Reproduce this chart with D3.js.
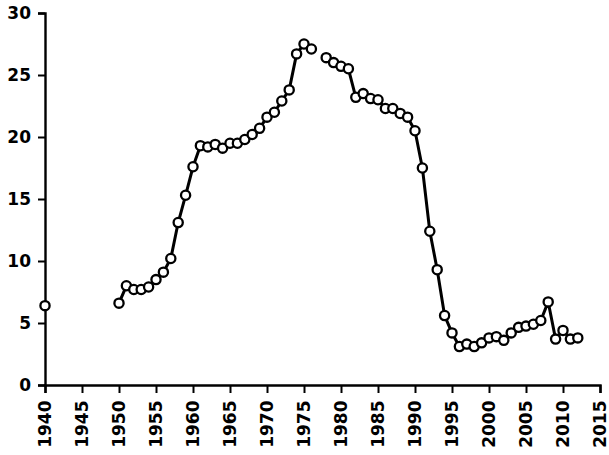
<!DOCTYPE html>
<html>
<head>
<meta charset="utf-8">
<script src="https://cdn.jsdelivr.net/npm/d3@7"></script>
<style>
  html, body { margin: 0; padding: 0; background: #fff; }
  svg { display: block; }
  text { font-family: "DejaVu Sans", Verdana, sans-serif; fill: #000; }
</style>
</head>
<body>
<svg id="chart" width="609" height="455"></svg>
<script>
// Segments of the series (gaps where no data): years and values
const years1 = [1940];
const values1 = [6.4];

const years2 = [1950, 1951, 1952, 1953, 1954, 1955, 1956, 1957, 1958, 1959,
                1960, 1961, 1962, 1963, 1964, 1965, 1966, 1967, 1968, 1969,
                1970, 1971, 1972, 1973, 1974, 1975, 1976];
const values2 = [6.6, 8.0, 7.7, 7.7, 7.9, 8.5, 9.1, 10.2, 13.1, 15.3,
                 17.6, 19.3, 19.2, 19.4, 19.1, 19.5, 19.5, 19.8, 20.2, 20.7,
                 21.6, 22.0, 22.9, 23.8, 26.7, 27.5, 27.1];

const years3 = [1978, 1979, 1980, 1981, 1982, 1983, 1984, 1985, 1986, 1987,
                1988, 1989, 1990, 1991, 1992, 1993, 1994, 1995, 1996, 1997,
                1998, 1999, 2000, 2001, 2002, 2003, 2004, 2005, 2006, 2007,
                2008, 2009, 2010, 2011, 2012];
const values3 = [26.4, 26.0, 25.7, 25.5, 23.2, 23.5, 23.1, 23.0, 22.3, 22.3,
                 21.9, 21.6, 20.5, 17.5, 12.4, 9.3, 5.6, 4.2, 3.1, 3.3,
                 3.1, 3.4, 3.8, 3.9, 3.6, 4.2, 4.65, 4.75, 4.9, 5.2,
                 6.7, 3.7, 4.4, 3.7, 3.8];

const xTicks = [1940, 1945, 1950, 1955, 1960, 1965, 1970, 1975, 1980, 1985,
                1990, 1995, 2000, 2005, 2010, 2015];
const yTicks = [0, 5, 10, 15, 20, 25, 30];

const svg = d3.select("#chart");
const mLeft = 45, mRight = 600, mTop = 13, mBottom = 385;

const x = d3.scaleLinear().domain([1940, 2015]).range([mLeft, mRight]);
const y = d3.scaleLinear().domain([0, 30]).range([mBottom, mTop]);

// Y axis
const yAxis = svg.append("g")
  .attr("transform", `translate(${mLeft},0)`)
  .call(d3.axisLeft(y).tickValues(yTicks).tickSize(7).tickPadding(7).tickFormat(d3.format("d")));
yAxis.select(".domain").attr("stroke", "#000").attr("stroke-width", 2.4);
yAxis.selectAll(".tick line").attr("stroke", "#000").attr("stroke-width", 2);
yAxis.selectAll(".tick text")
  .attr("font-size", 17).attr("font-weight", "bold").attr("font-family", "DejaVu Sans");

// X axis
const xAxis = svg.append("g")
  .attr("transform", `translate(0,${mBottom})`)
  .call(d3.axisBottom(x).tickValues(xTicks).tickSize(8).tickFormat(d3.format("d")));
xAxis.select(".domain").attr("stroke", "#000").attr("stroke-width", 2.4);
xAxis.selectAll(".tick line").attr("stroke", "#000").attr("stroke-width", 2);
xAxis.selectAll(".tick text")
  .attr("font-size", 17)
  .attr("font-weight", "bold")
  .attr("font-family", "DejaVu Sans")
  .attr("text-anchor", "end")
  .attr("dy", "0.35em")
  .attr("transform", "rotate(-90)")
  .attr("x", -15.5)
  .attr("y", 0);

const line = d3.line().x(d => x(d[0])).y(d => y(d[1]));

const segments = [
  d3.zip(years1, values1),
  d3.zip(years2, values2),
  d3.zip(years3, values3)
];

const g = svg.append("g");
segments.forEach(seg => {
  if (seg.length > 1) {
    g.append("path")
      .datum(seg)
      .attr("fill", "none")
      .attr("stroke", "#000")
      .attr("stroke-width", 3)
      .attr("stroke-linejoin", "round")
      .attr("d", line);
  }
});
segments.forEach(seg => {
  g.selectAll(null)
    .data(seg)
    .enter()
    .append("circle")
    .attr("cx", d => x(d[0]))
    .attr("cy", d => y(d[1]))
    .attr("r", 4.6)
    .attr("fill", "#fff")
    .attr("stroke", "#000")
    .attr("stroke-width", 2.3);
});
</script>
</body>
</html>
